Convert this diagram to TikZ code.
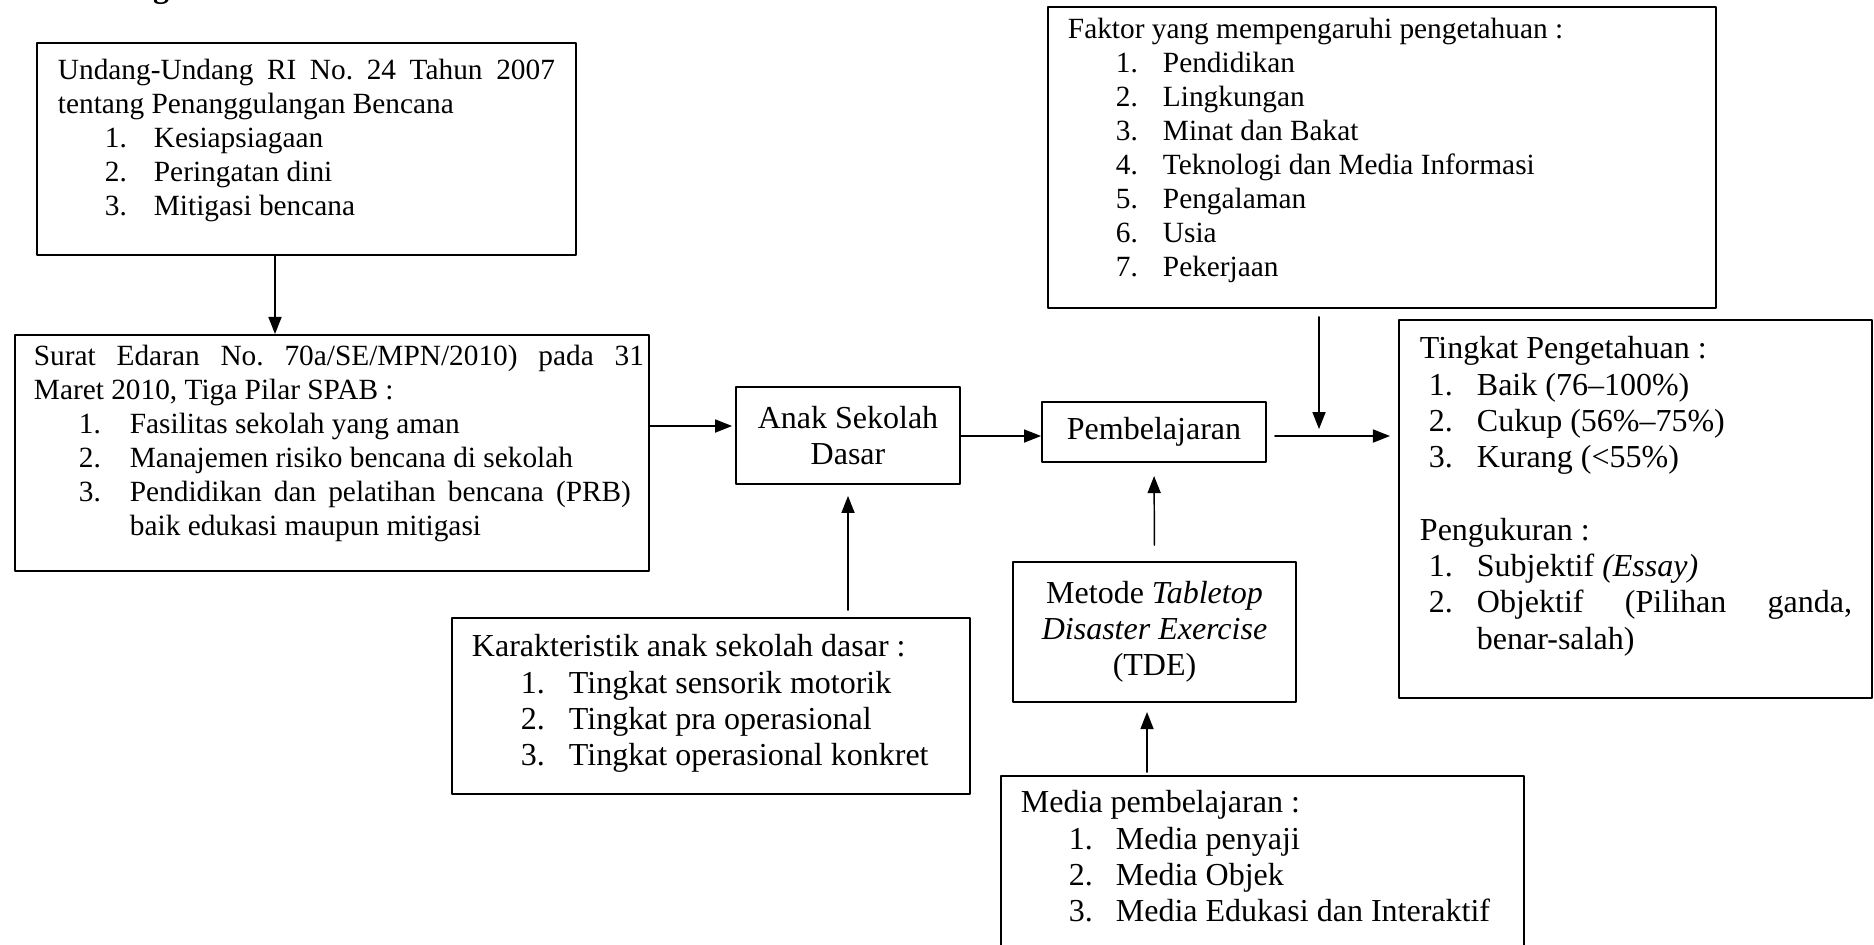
\documentclass[tikz,border=0pt]{standalone}
\usepackage{fontspec}
\setmainfont{Liberation Serif}
\usetikzlibrary{arrows.meta}

\newlength{\upx}\setlength{\upx}{0.375pt}
\newlength{\inum}\newlength{\itext}
\newcommand{\elevenpt}{\fontsize{11}{12.7}\selectfont}
\newcommand{\twelvept}{\fontsize{12}{13.6}\selectfont}
\newcommand{\listat}[2]{\setlength{\inum}{#1\upx}\setlength{\itext}{#2\upx}}
\newcommand{\nitem}[2]{\par\hangindent=\itext\hangafter=0\noindent
  \llap{\makebox[\dimexpr\itext-\inum\relax][l]{#1}}#2}
% width, height, left pad, right pad, first baseline, text
\newcommand{\panel}[6]{%
  \begin{minipage}[t][#2\upx][t]{#1\upx}%
  \frenchspacing\tolerance=10000\hbadness=10000
  \leftskip=#3\upx\rightskip=#4\upx
  \vspace*{\dimexpr#5\upx-0.75em\relax}%
  \noindent\rule{0pt}{0.75em}#6%
  \end{minipage}}

\begin{document}
\begin{tikzpicture}[line cap=round,line join=round,>={Triangle[length=6.4pt,width=4.9pt]},
  x=0.375pt,y=-0.375pt,
  box/.style={draw,line width=0.7pt,inner sep=0pt,anchor=north west},
  tag/.style={draw,line width=0.7pt,inner sep=0pt,align=center,font=\twelvept},
  arr/.style={->,line width=0.55pt}]
\useasboundingbox (0,0) rectangle (1874,944);
\clip (0,0) rectangle (1874,944);
\node[font=\twelvept\bfseries,anchor=base] (hd) at (161,-3) {g};
% left column
\node[box,font=\elevenpt] (uu) at (36,42) {\panel{539}{212}{21}{21}{37}{%
Undang-Undang RI No. 24 Tahun 2007\linebreak tentang Penanggulangan Bencana
\listat{47}{96}\nitem{1.}{Kesiapsiagaan}\nitem{2.}{Peringatan dini}%
\nitem{3.}{Mitigasi bencana}}};
\node[box,font=\elevenpt] (se) at (14,334) {\panel{634}{236}{19}{5}{31}{%
Surat Edaran No. 70a/SE/MPN/2010) pada 31\linebreak Maret 2010, Tiga Pilar SPAB :
\par\rightskip=18\upx\listat{45}{96}\nitem{1.}{Fasilitas sekolah yang aman}%
\nitem{2.}{Manajemen risiko bencana di sekolah}%
\nitem{3.}{Pendidikan dan pelatihan bencana (PRB)\linebreak baik edukasi maupun mitigasi}}};
\node[box,font=\twelvept] (karak) at (451,617) {\panel{518}{176}{20}{20}{39}{%
Karakteristik anak sekolah dasar :
\listat{49}{97}\nitem{1.}{Tingkat sensorik motorik}\nitem{2.}{Tingkat pra operasional}%
\nitem{3.}{Tingkat operasional konkret}}};
% middle
\node[tag,minimum width=84pt,minimum height=36.4pt] (anak) at (848,435.5) {Anak Sekolah\\Dasar};
\node[tag,minimum width=84pt,minimum height=22.5pt] (pemb) at (1154,432) {Pembelajaran};
\node[tag,minimum width=106.1pt,minimum height=52.5pt] (metode) at (1154.5,632)
  {Metode \textit{Tabletop}\\\textit{Disaster Exercise}\\(TDE)};
\node[box,font=\twelvept] (media) at (1000,775) {\panel{523}{200}{20}{20}{37}{%
Media pembelajaran :
\listat{48}{95}\nitem{1.}{Media penyaji}\nitem{2.}{Media Objek}%
\nitem{3.}{Media Edukasi dan Interaktif}}};
% right
\node[box,font=\elevenpt] (faktor) at (1047,6) {\panel{668}{301}{20}{20}{32}{%
Faktor yang mempengaruhi pengetahuan :
\listat{48}{95}\nitem{1.}{Pendidikan}\nitem{2.}{Lingkungan}\nitem{3.}{Minat dan Bakat}%
\nitem{4.}{Teknologi dan Media Informasi}\nitem{5.}{Pengalaman}\nitem{6.}{Usia}%
\nitem{7.}{Pekerjaan}}};
\node[box,font=\twelvept] (tingkat) at (1398,319) {\panel{473}{378}{21}{20}{39}{%
Tingkat Pengetahuan :
\listat{9}{57}\nitem{1.}{Baik (76--100\%)}\nitem{2.}{Cukup (56\%--75\%)}%
\nitem{3.}{Kurang (<55\%)}
\par\vspace{\baselineskip}\noindent Pengukuran :
\nitem{1.}{Subjektif \textit{(Essay)}}\nitem{2.}{Objektif (Pilihan ganda,\linebreak benar-salah)}}};
% arrows
\coordinate (join) at (1319,436);
\draw[arr] (275,0 |- uu.south) -- (275,0 |- se.north);
\draw[arr,shorten >=1.1pt] (se.east |- 0,426) -- (anak.west |- 0,426);
\draw[arr] (anak.east |- 0,436) -- (pemb.west |- 0,436);
\draw[arr,shorten <=3pt,shorten >=3pt] (pemb.east |- 0,436) -- (tingkat.west |- 0,436);
\draw[arr,shorten <=3pt,shorten >=2.6pt] (faktor.south -| join) -- (join);
\draw[arr,shorten <=2.6pt,shorten >=4.1pt] (anak.south |- karak.north) -- (anak.south);
\draw[arr,shorten <=6pt,shorten >=4.9pt] (metode.north) -- (pemb.south);
\draw[arr,shorten <=1.1pt,shorten >=3.4pt] (1147,0 |- media.north) -- (1147,0 |- metode.south);
\end{tikzpicture}
\end{document}
